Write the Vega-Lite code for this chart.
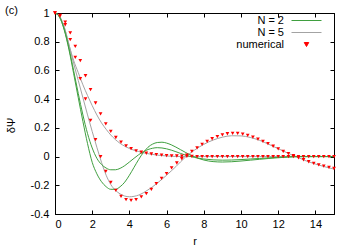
{
  "$schema": "https://vega.github.io/schema/vega-lite/v6.json",
  "width": 279,
  "height": 201,
  "autosize": "none",
  "padding": {"left": 55, "top": 13, "right": 19, "bottom": 33},
  "background": "white",
  "config": {
    "font": "Liberation Sans",
    "view": {"stroke": "black", "strokeWidth": 1},
    "axis": {
      "labelFont": "Liberation Sans", "labelFontSize": 11, "labelColor": "black",
      "titleFont": "Liberation Sans", "titleFontSize": 11, "titleFontWeight": "normal", "titleColor": "black",
      "domainColor": "black", "tickColor": "black", "grid": false, "tickSize": -4
    },
    "legend": {"title": null, "orient": "none", "legendX": 246, "legendY": 2, "labelAlign": "right", "labelOffset": -28, "labelFont": "Liberation Sans", "labelFontSize": 11, "labelColor": "black", "symbolSize": 64, "rowPadding": 0, "padding": 0, "labelLimit": 200}
  },
  "title": {"text": "(c)", "anchor": "start", "frame": "group", "orient": "top", "offset": 0, "dx": -50, "dy": 18, "baseline": "alphabetic", "fontSize": 11, "fontWeight": "normal", "font": "Liberation Sans", "color": "black"},
  "datasets": {
    "lines": [
      {"r":0,"v":1,"N":"N = 5","c":"a"},{"r":0.25,"v":0.975,"N":"N = 5","c":"a"},{"r":0.5,"v":0.9,"N":"N = 5","c":"a"},{"r":0.75,"v":0.78,"N":"N = 5","c":"a"},{"r":1,"v":0.67,"N":"N = 5","c":"a"},{"r":1.25,"v":0.585,"N":"N = 5","c":"a"},{"r":1.5,"v":0.5,"N":"N = 5","c":"a"},{"r":1.75,"v":0.425,"N":"N = 5","c":"a"},{"r":2,"v":0.355,"N":"N = 5","c":"a"},{"r":2.25,"v":0.29,"N":"N = 5","c":"a"},{"r":2.5,"v":0.235,"N":"N = 5","c":"a"},{"r":2.75,"v":0.19,"N":"N = 5","c":"a"},{"r":3,"v":0.15,"N":"N = 5","c":"a"},{"r":3.25,"v":0.118,"N":"N = 5","c":"a"},{"r":3.5,"v":0.092,"N":"N = 5","c":"a"},{"r":3.75,"v":0.072,"N":"N = 5","c":"a"},{"r":4,"v":0.056,"N":"N = 5","c":"a"},{"r":4.5,"v":0.035,"N":"N = 5","c":"a"},{"r":5,"v":0.02,"N":"N = 5","c":"a"},{"r":5.5,"v":0.01,"N":"N = 5","c":"a"},{"r":6,"v":0.004,"N":"N = 5","c":"a"},{"r":6.5,"v":0.001,"N":"N = 5","c":"a"},{"r":7,"v":0,"N":"N = 5","c":"a"},{"r":8,"v":0,"N":"N = 5","c":"a"},{"r":9,"v":0,"N":"N = 5","c":"a"},{"r":10,"v":0,"N":"N = 5","c":"a"},{"r":11,"v":0,"N":"N = 5","c":"a"},{"r":12,"v":0,"N":"N = 5","c":"a"},{"r":13,"v":0,"N":"N = 5","c":"a"},{"r":14,"v":0,"N":"N = 5","c":"a"},{"r":15,"v":0,"N":"N = 5","c":"a"},
      {"r":0,"v":1,"N":"N = 5","c":"b"},{"r":0.25,"v":0.975,"N":"N = 5","c":"b"},{"r":0.5,"v":0.9,"N":"N = 5","c":"b"},{"r":0.75,"v":0.78,"N":"N = 5","c":"b"},{"r":1,"v":0.65,"N":"N = 5","c":"b"},{"r":1.25,"v":0.53,"N":"N = 5","c":"b"},{"r":1.5,"v":0.41,"N":"N = 5","c":"b"},{"r":1.75,"v":0.29,"N":"N = 5","c":"b"},{"r":2,"v":0.175,"N":"N = 5","c":"b"},{"r":2.25,"v":0.065,"N":"N = 5","c":"b"},{"r":2.5,"v":-0.04,"N":"N = 5","c":"b"},{"r":2.75,"v":-0.13,"N":"N = 5","c":"b"},{"r":3,"v":-0.195,"N":"N = 5","c":"b"},{"r":3.25,"v":-0.235,"N":"N = 5","c":"b"},{"r":3.5,"v":-0.26,"N":"N = 5","c":"b"},{"r":3.75,"v":-0.275,"N":"N = 5","c":"b"},{"r":4,"v":-0.28,"N":"N = 5","c":"b"},{"r":4.25,"v":-0.277,"N":"N = 5","c":"b"},{"r":4.5,"v":-0.268,"N":"N = 5","c":"b"},{"r":4.75,"v":-0.252,"N":"N = 5","c":"b"},{"r":5,"v":-0.232,"N":"N = 5","c":"b"},{"r":5.25,"v":-0.21,"N":"N = 5","c":"b"},{"r":5.5,"v":-0.185,"N":"N = 5","c":"b"},{"r":5.75,"v":-0.158,"N":"N = 5","c":"b"},{"r":6,"v":-0.13,"N":"N = 5","c":"b"},{"r":6.25,"v":-0.1,"N":"N = 5","c":"b"},{"r":6.5,"v":-0.07,"N":"N = 5","c":"b"},{"r":6.75,"v":-0.037,"N":"N = 5","c":"b"},{"r":7,"v":-0.005,"N":"N = 5","c":"b"},{"r":7.5,"v":0.045,"N":"N = 5","c":"b"},{"r":8,"v":0.085,"N":"N = 5","c":"b"},{"r":8.5,"v":0.115,"N":"N = 5","c":"b"},{"r":9,"v":0.135,"N":"N = 5","c":"b"},{"r":9.5,"v":0.145,"N":"N = 5","c":"b"},{"r":10,"v":0.144,"N":"N = 5","c":"b"},{"r":10.5,"v":0.133,"N":"N = 5","c":"b"},{"r":11,"v":0.113,"N":"N = 5","c":"b"},{"r":11.5,"v":0.085,"N":"N = 5","c":"b"},{"r":12,"v":0.055,"N":"N = 5","c":"b"},{"r":12.5,"v":0.025,"N":"N = 5","c":"b"},{"r":13,"v":-0.003,"N":"N = 5","c":"b"},{"r":13.5,"v":-0.03,"N":"N = 5","c":"b"},{"r":14,"v":-0.052,"N":"N = 5","c":"b"},{"r":14.5,"v":-0.071,"N":"N = 5","c":"b"},{"r":15,"v":-0.087,"N":"N = 5","c":"b"},
      {"r":0,"v":1,"N":"N = 2","c":"b"},{"r":0.25,"v":0.97,"N":"N = 2","c":"b"},{"r":0.5,"v":0.88,"N":"N = 2","c":"b"},{"r":0.75,"v":0.745,"N":"N = 2","c":"b"},{"r":1,"v":0.58,"N":"N = 2","c":"b"},{"r":1.25,"v":0.41,"N":"N = 2","c":"b"},{"r":1.5,"v":0.245,"N":"N = 2","c":"b"},{"r":1.75,"v":0.09,"N":"N = 2","c":"b"},{"r":2,"v":-0.04,"N":"N = 2","c":"b"},{"r":2.25,"v":-0.12,"N":"N = 2","c":"b"},{"r":2.5,"v":-0.175,"N":"N = 2","c":"b"},{"r":2.75,"v":-0.21,"N":"N = 2","c":"b"},{"r":3,"v":-0.228,"N":"N = 2","c":"b"},{"r":3.25,"v":-0.228,"N":"N = 2","c":"b"},{"r":3.5,"v":-0.21,"N":"N = 2","c":"b"},{"r":3.75,"v":-0.178,"N":"N = 2","c":"b"},{"r":4,"v":-0.13,"N":"N = 2","c":"b"},{"r":4.25,"v":-0.075,"N":"N = 2","c":"b"},{"r":4.5,"v":-0.02,"N":"N = 2","c":"b"},{"r":4.75,"v":0.028,"N":"N = 2","c":"b"},{"r":5,"v":0.065,"N":"N = 2","c":"b"},{"r":5.25,"v":0.087,"N":"N = 2","c":"b"},{"r":5.5,"v":0.098,"N":"N = 2","c":"b"},{"r":5.75,"v":0.1,"N":"N = 2","c":"b"},{"r":6,"v":0.094,"N":"N = 2","c":"b"},{"r":6.25,"v":0.082,"N":"N = 2","c":"b"},{"r":6.5,"v":0.066,"N":"N = 2","c":"b"},{"r":6.75,"v":0.048,"N":"N = 2","c":"b"},{"r":7,"v":0.03,"N":"N = 2","c":"b"},{"r":7.5,"v":-0.002,"N":"N = 2","c":"b"},{"r":8,"v":-0.024,"N":"N = 2","c":"b"},{"r":8.5,"v":-0.035,"N":"N = 2","c":"b"},{"r":9,"v":-0.038,"N":"N = 2","c":"b"},{"r":9.5,"v":-0.036,"N":"N = 2","c":"b"},{"r":10,"v":-0.031,"N":"N = 2","c":"b"},{"r":10.5,"v":-0.025,"N":"N = 2","c":"b"},{"r":11,"v":-0.019,"N":"N = 2","c":"b"},{"r":11.5,"v":-0.013,"N":"N = 2","c":"b"},{"r":12,"v":-0.008,"N":"N = 2","c":"b"},{"r":12.5,"v":-0.004,"N":"N = 2","c":"b"},{"r":13,"v":-0.001,"N":"N = 2","c":"b"},{"r":14,"v":0,"N":"N = 2","c":"b"},{"r":15,"v":0,"N":"N = 2","c":"b"},
      {"r":0,"v":1,"N":"N = 2","c":"a"},{"r":0.25,"v":0.97,"N":"N = 2","c":"a"},{"r":0.5,"v":0.885,"N":"N = 2","c":"a"},{"r":0.75,"v":0.755,"N":"N = 2","c":"a"},{"r":1,"v":0.6,"N":"N = 2","c":"a"},{"r":1.25,"v":0.44,"N":"N = 2","c":"a"},{"r":1.5,"v":0.29,"N":"N = 2","c":"a"},{"r":1.75,"v":0.16,"N":"N = 2","c":"a"},{"r":2,"v":0.06,"N":"N = 2","c":"a"},{"r":2.25,"v":-0.012,"N":"N = 2","c":"a"},{"r":2.5,"v":-0.055,"N":"N = 2","c":"a"},{"r":2.75,"v":-0.08,"N":"N = 2","c":"a"},{"r":3,"v":-0.092,"N":"N = 2","c":"a"},{"r":3.25,"v":-0.092,"N":"N = 2","c":"a"},{"r":3.5,"v":-0.082,"N":"N = 2","c":"a"},{"r":3.75,"v":-0.063,"N":"N = 2","c":"a"},{"r":4,"v":-0.038,"N":"N = 2","c":"a"},{"r":4.25,"v":-0.012,"N":"N = 2","c":"a"},{"r":4.5,"v":0.013,"N":"N = 2","c":"a"},{"r":4.75,"v":0.034,"N":"N = 2","c":"a"},{"r":5,"v":0.049,"N":"N = 2","c":"a"},{"r":5.25,"v":0.058,"N":"N = 2","c":"a"},{"r":5.5,"v":0.062,"N":"N = 2","c":"a"},{"r":5.75,"v":0.06,"N":"N = 2","c":"a"},{"r":6,"v":0.054,"N":"N = 2","c":"a"},{"r":6.25,"v":0.045,"N":"N = 2","c":"a"},{"r":6.5,"v":0.034,"N":"N = 2","c":"a"},{"r":6.75,"v":0.022,"N":"N = 2","c":"a"},{"r":7,"v":0.011,"N":"N = 2","c":"a"},{"r":7.5,"v":-0.006,"N":"N = 2","c":"a"},{"r":8,"v":-0.017,"N":"N = 2","c":"a"},{"r":8.5,"v":-0.023,"N":"N = 2","c":"a"},{"r":9,"v":-0.025,"N":"N = 2","c":"a"},{"r":9.5,"v":-0.024,"N":"N = 2","c":"a"},{"r":10,"v":-0.021,"N":"N = 2","c":"a"},{"r":10.5,"v":-0.017,"N":"N = 2","c":"a"},{"r":11,"v":-0.013,"N":"N = 2","c":"a"},{"r":11.5,"v":-0.009,"N":"N = 2","c":"a"},{"r":12,"v":-0.005,"N":"N = 2","c":"a"},{"r":12.5,"v":-0.002,"N":"N = 2","c":"a"},{"r":13,"v":0,"N":"N = 2","c":"a"},{"r":14,"v":0,"N":"N = 2","c":"a"},{"r":15,"v":0,"N":"N = 2","c":"a"}
    ],
    "num": [
      {"r":0,"v":1,"N":"numerical","c":"a"},{"r":0.27,"v":0.983,"N":"numerical","c":"a"},{"r":0.55,"v":0.937,"N":"numerical","c":"a"},{"r":0.82,"v":0.861,"N":"numerical","c":"a"},{"r":1.09,"v":0.768,"N":"numerical","c":"a"},{"r":1.36,"v":0.668,"N":"numerical","c":"a"},{"r":1.64,"v":0.563,"N":"numerical","c":"a"},{"r":1.91,"v":0.466,"N":"numerical","c":"a"},{"r":2.18,"v":0.373,"N":"numerical","c":"a"},{"r":2.45,"v":0.298,"N":"numerical","c":"a"},{"r":2.73,"v":0.228,"N":"numerical","c":"a"},{"r":3,"v":0.175,"N":"numerical","c":"a"},{"r":3.27,"v":0.133,"N":"numerical","c":"a"},{"r":3.55,"v":0.1,"N":"numerical","c":"a"},{"r":3.82,"v":0.075,"N":"numerical","c":"a"},{"r":4.09,"v":0.055,"N":"numerical","c":"a"},{"r":4.36,"v":0.04,"N":"numerical","c":"a"},{"r":4.64,"v":0.03,"N":"numerical","c":"a"},{"r":4.91,"v":0.023,"N":"numerical","c":"a"},{"r":5.18,"v":0.018,"N":"numerical","c":"a"},{"r":5.45,"v":0.014,"N":"numerical","c":"a"},{"r":5.73,"v":0.01,"N":"numerical","c":"a"},{"r":6,"v":0.007,"N":"numerical","c":"a"},{"r":6.27,"v":0.005,"N":"numerical","c":"a"},{"r":6.55,"v":0.004,"N":"numerical","c":"a"},{"r":6.82,"v":0.003,"N":"numerical","c":"a"},{"r":7.09,"v":0.002,"N":"numerical","c":"a"},{"r":7.36,"v":0.001,"N":"numerical","c":"a"},{"r":7.64,"v":0,"N":"numerical","c":"a"},{"r":7.91,"v":0,"N":"numerical","c":"a"},{"r":8.18,"v":0,"N":"numerical","c":"a"},{"r":8.45,"v":0,"N":"numerical","c":"a"},{"r":8.73,"v":0,"N":"numerical","c":"a"},{"r":9,"v":0,"N":"numerical","c":"a"},{"r":9.27,"v":0,"N":"numerical","c":"a"},{"r":9.55,"v":0,"N":"numerical","c":"a"},{"r":9.82,"v":0,"N":"numerical","c":"a"},{"r":10.09,"v":0,"N":"numerical","c":"a"},{"r":10.36,"v":0,"N":"numerical","c":"a"},{"r":10.64,"v":0,"N":"numerical","c":"a"},{"r":10.91,"v":0,"N":"numerical","c":"a"},{"r":11.18,"v":0,"N":"numerical","c":"a"},{"r":11.45,"v":0,"N":"numerical","c":"a"},{"r":11.73,"v":0,"N":"numerical","c":"a"},{"r":12,"v":0,"N":"numerical","c":"a"},{"r":12.27,"v":0,"N":"numerical","c":"a"},{"r":12.55,"v":0,"N":"numerical","c":"a"},{"r":12.82,"v":0,"N":"numerical","c":"a"},{"r":13.09,"v":0,"N":"numerical","c":"a"},{"r":13.36,"v":0,"N":"numerical","c":"a"},{"r":13.64,"v":0,"N":"numerical","c":"a"},{"r":13.91,"v":0,"N":"numerical","c":"a"},{"r":14.18,"v":0,"N":"numerical","c":"a"},{"r":14.45,"v":0,"N":"numerical","c":"a"},{"r":14.73,"v":0,"N":"numerical","c":"a"},{"r":15,"v":0,"N":"numerical","c":"a"},
      {"r":0,"v":1,"N":"numerical","c":"b"},{"r":0.27,"v":0.978,"N":"numerical","c":"b"},{"r":0.55,"v":0.918,"N":"numerical","c":"b"},{"r":0.82,"v":0.814,"N":"numerical","c":"b"},{"r":1.09,"v":0.691,"N":"numerical","c":"b"},{"r":1.36,"v":0.542,"N":"numerical","c":"b"},{"r":1.64,"v":0.401,"N":"numerical","c":"b"},{"r":1.91,"v":0.252,"N":"numerical","c":"b"},{"r":2.18,"v":0.118,"N":"numerical","c":"b"},{"r":2.45,"v":0,"N":"numerical","c":"b"},{"r":2.73,"v":-0.103,"N":"numerical","c":"b"},{"r":3,"v":-0.18,"N":"numerical","c":"b"},{"r":3.27,"v":-0.235,"N":"numerical","c":"b"},{"r":3.55,"v":-0.277,"N":"numerical","c":"b"},{"r":3.82,"v":-0.3,"N":"numerical","c":"b"},{"r":4.09,"v":-0.305,"N":"numerical","c":"b"},{"r":4.36,"v":-0.3,"N":"numerical","c":"b"},{"r":4.64,"v":-0.281,"N":"numerical","c":"b"},{"r":4.91,"v":-0.258,"N":"numerical","c":"b"},{"r":5.18,"v":-0.228,"N":"numerical","c":"b"},{"r":5.45,"v":-0.189,"N":"numerical","c":"b"},{"r":5.73,"v":-0.152,"N":"numerical","c":"b"},{"r":6,"v":-0.119,"N":"numerical","c":"b"},{"r":6.27,"v":-0.079,"N":"numerical","c":"b"},{"r":6.55,"v":-0.045,"N":"numerical","c":"b"},{"r":6.82,"v":-0.015,"N":"numerical","c":"b"},{"r":7.09,"v":0.01,"N":"numerical","c":"b"},{"r":7.36,"v":0.036,"N":"numerical","c":"b"},{"r":7.64,"v":0.06,"N":"numerical","c":"b"},{"r":7.91,"v":0.085,"N":"numerical","c":"b"},{"r":8.18,"v":0.106,"N":"numerical","c":"b"},{"r":8.45,"v":0.124,"N":"numerical","c":"b"},{"r":8.73,"v":0.139,"N":"numerical","c":"b"},{"r":9,"v":0.151,"N":"numerical","c":"b"},{"r":9.27,"v":0.159,"N":"numerical","c":"b"},{"r":9.55,"v":0.162,"N":"numerical","c":"b"},{"r":9.82,"v":0.161,"N":"numerical","c":"b"},{"r":10.09,"v":0.156,"N":"numerical","c":"b"},{"r":10.36,"v":0.148,"N":"numerical","c":"b"},{"r":10.64,"v":0.136,"N":"numerical","c":"b"},{"r":10.91,"v":0.121,"N":"numerical","c":"b"},{"r":11.18,"v":0.106,"N":"numerical","c":"b"},{"r":11.45,"v":0.09,"N":"numerical","c":"b"},{"r":11.73,"v":0.072,"N":"numerical","c":"b"},{"r":12,"v":0.053,"N":"numerical","c":"b"},{"r":12.27,"v":0.036,"N":"numerical","c":"b"},{"r":12.55,"v":0.02,"N":"numerical","c":"b"},{"r":12.82,"v":0.006,"N":"numerical","c":"b"},{"r":13.09,"v":-0.008,"N":"numerical","c":"b"},{"r":13.36,"v":-0.022,"N":"numerical","c":"b"},{"r":13.64,"v":-0.036,"N":"numerical","c":"b"},{"r":13.91,"v":-0.048,"N":"numerical","c":"b"},{"r":14.18,"v":-0.058,"N":"numerical","c":"b"},{"r":14.45,"v":-0.067,"N":"numerical","c":"b"},{"r":14.73,"v":-0.075,"N":"numerical","c":"b"},{"r":15,"v":-0.083,"N":"numerical","c":"b"}
    ]
  },
  "layer": [
    {
      "mark": {"type": "rule", "color": "#7a6e6e", "strokeDash": [1.5, 1], "strokeWidth": 2},
      "encoding": {
        "y": {"datum": 0, "type": "quantitative", "scale": {"domain": [-0.4, 1], "nice": false, "zero": false}, "axis": null}
      }
    },
    {
      "data": {"name": "lines"},
      "mark": {"type": "line", "strokeWidth": 1, "interpolate": "monotone"},
      "encoding": {
        "x": {"field": "r", "type": "quantitative", "scale": {"domain": [0, 15], "nice": false, "zero": false},
              "axis": {"orient": "bottom", "values": [0, 2, 4, 6, 8, 10, 12, 14], "title": "r", "labelPadding": 8, "titleY": 30, "titleBaseline": "alphabetic", "titleAnchor": "middle"}},
        "y": {"field": "v", "type": "quantitative", "scale": {"domain": [-0.4, 1], "nice": false, "zero": false},
              "axis": {"orient": "left", "values": [-0.4, -0.2, 0, 0.2, 0.4, 0.6, 0.8, 1], "labelExpr": "datum.value + ''", "title": "δΨ", "labelPadding": 10, "titleX": -44, "titleY": 112, "titleAlign": "center", "titleBaseline": "middle", "titleAngle": 270}},
        "color": {"field": "N", "type": "nominal", "scale": {"domain": ["N = 2", "N = 5", "numerical"], "range": ["#3f9f3f", "#a3a3a3", "#ff0000"]},
                  "legend": {"encode": {"symbols": {"update": {"stroke": {"scale": "color", "field": "value"}, "fill": {"scale": "color", "field": "value"}, "strokeWidth": {"value": 1}, "opacity": {"value": 1}}}}}},
        "detail": {"field": "c"}
      }
    },
    {
      "data": {"name": "num"},
      "mark": {"type": "point", "filled": true, "size": 44, "opacity": 1},
      "encoding": {
        "x": {"field": "r", "type": "quantitative", "axis": {"orient": "top", "values": [0, 2, 4, 6, 8, 10, 12, 14], "labels": false, "title": null}},
        "y": {"field": "v", "type": "quantitative", "axis": {"orient": "right", "values": [-0.4, -0.2, 0, 0.2, 0.4, 0.6, 0.8, 1], "labels": false, "title": null}},
        "color": {"field": "N", "type": "nominal",
                  "legend": {"encode": {"symbols": {"update": {"stroke": {"scale": "color", "field": "value"}, "fill": {"scale": "color", "field": "value"}, "strokeWidth": {"value": 1}, "opacity": {"value": 1}}}}}},
        "shape": {"field": "N", "type": "nominal",
                  "scale": {"domain": ["N = 2", "N = 5", "numerical"], "range": ["M-3.75,0H3.75", "M-3.75,0H3.75", "M-0.56,-0.5H0.56L0,0.5Z"]},
                  "legend": {"encode": {"symbols": {"update": {"stroke": {"scale": "color", "field": "value"}, "fill": {"scale": "color", "field": "value"}, "strokeWidth": {"value": 1}, "opacity": {"value": 1}}}}}}
      }
    }
  ],
  "resolve": {"axis": {"x": "independent", "y": "independent"}}
}
